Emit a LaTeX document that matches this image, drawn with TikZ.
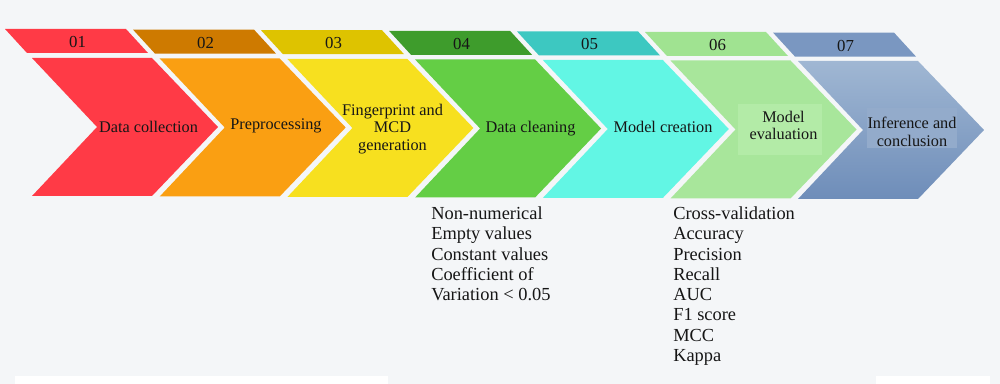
\documentclass[tikz,border=0pt]{standalone}
\usepackage{fontspec}
\setmainfont{Liberation Serif}
\definecolor{bgc}{HTML}{F4F6F8}
\definecolor{txt}{HTML}{161616}
\definecolor{tA}{HTML}{FF3A46}
\definecolor{tB}{HTML}{CE7A00}
\definecolor{tC}{HTML}{DEC300}
\definecolor{tD}{HTML}{3E9C2C}
\definecolor{tE}{HTML}{3DC8C1}
\definecolor{tF}{HTML}{A0E391}
\definecolor{tG}{HTML}{7A97C1}
\definecolor{cA}{HTML}{FF3A46}
\definecolor{cB}{HTML}{FA9F12}
\definecolor{cC}{HTML}{F7E01F}
\definecolor{cD}{HTML}{64CE45}
\definecolor{cE}{HTML}{62F6E4}
\definecolor{cF}{HTML}{A8E69B}
\definecolor{cFl}{HTML}{B3EBA7}
\definecolor{cGt}{HTML}{A0B7D3}
\definecolor{cGb}{HTML}{6E8DB9}
\definecolor{cGl}{HTML}{93ABCB}
\tikzset{
  numtxt/.style={text=txt, font=\fontsize{12.6pt}{14pt}\selectfont, inner sep=0pt},
  steplabel/.style={text=txt, font=\fontsize{12.2pt}{13.3pt}\selectfont, align=center, inner sep=0pt},
  listtxt/.style={text=txt, font=\fontsize{13.8pt}{15.2pt}\selectfont, align=left, inner sep=0pt, anchor=north west},
}
\begin{document}
\begin{tikzpicture}[x=0.75pt,y=-0.75pt]
\fill[bgc] (0,0) rectangle (1000,384);
\useasboundingbox (0,0) rectangle (1000,384);
\fill[white] (15,376) rectangle (388,384);
\fill[white] (876,376) rectangle (990,384);
% number tabs
\foreach \i/\c/\t in {0/tA/01,1/tB/02,2/tC/03,3/tD/04,4/tE/05,5/tF/06,6/tG/07}{
  \pgfmathsetmacro\xa{5+128*\i}
  \pgfmathsetmacro\ya{29+0.6*\i}
  \fill[\c] (\xa,\ya) -- ++(121,0) -- ++(22,24) -- ++(-121,0) -- cycle;
  \node[numtxt] (n\i) at (\xa+72.5,\ya+13) {\t};
}
% chevrons
\foreach \i/\c in {0/cA,1/cB,2/cC,3/cD,4/cE,5/cF}{
  \pgfmathsetmacro\xa{32+127.7*\i}
  \pgfmathsetmacro\ya{58+0.5*\i}
  \fill[\c] (\xa,\ya) -- ++(120,0) -- ++(66,69) -- ++(-66,69) -- ++(-120,0) -- ++(65,-69) -- cycle;
}
\shade[top color=cGt, bottom color=cGb] (798,61) -- ++(120,0) -- ++(66,69) -- ++(-66,69) -- ++(-120,0) -- ++(65,-69) -- cycle;
% lighter text panels
\fill[cFl] (738,104) rectangle (822,155);
\fill[cGl] (867,108) rectangle (957,148);
% step labels
\node[steplabel, anchor=base] (s1) at (148.5,132.7) {Data collection};
\node[steplabel, anchor=base] (s2) at (276,130) {Preprocessing};
\node[steplabel] (s3) at (392.5,129) {Fingerprint and\\MCD\\generation};
\node[steplabel, anchor=base] (s4) at (530.5,133) {Data cleaning};
\node[steplabel, anchor=base] (s5) at (663,132.7) {Model creation};
\node[steplabel] (s6) at (783.5,125.5) {Model\\evaluation};
\node[steplabel] (s7) at (912,132) {Inference and\\conclusion};
% lists
\node[listtxt] (l4) at (431,206.5) {Non-numerical\\Empty values\\Constant values\\Coefficient of\\Variation < 0.05};
\node[listtxt] (l6) at (673,206.5) {Cross-validation\\Accuracy\\Precision\\Recall\\AUC\\F1 score\\MCC\\Kappa};
\end{tikzpicture}
\end{document}
